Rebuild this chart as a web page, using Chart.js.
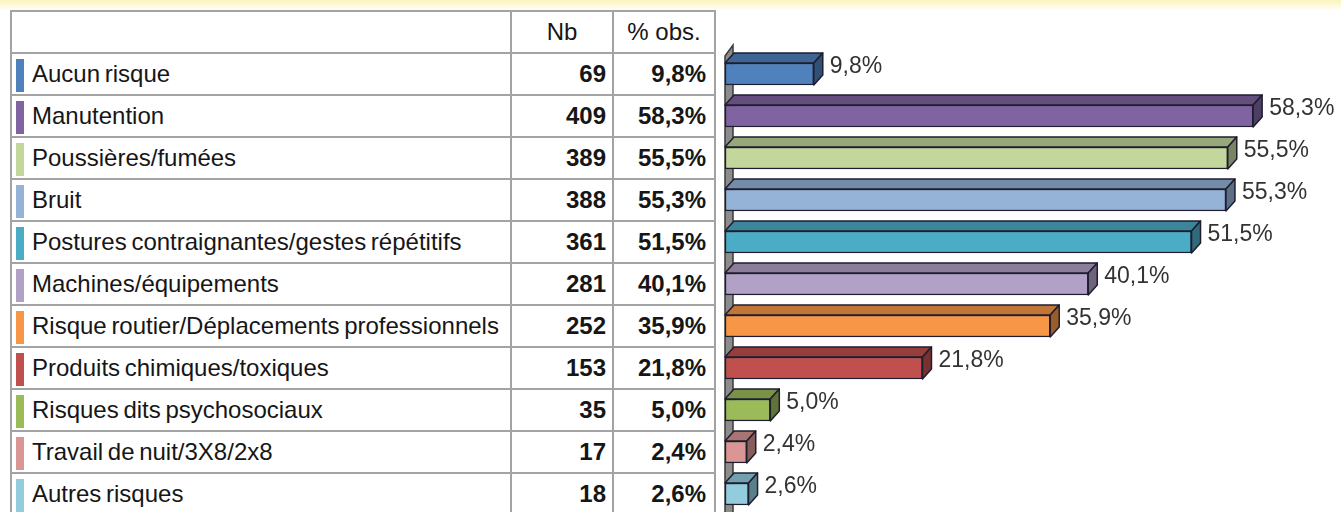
<!DOCTYPE html>
<html>
<head>
<meta charset="utf-8">
<script src="https://cdn.jsdelivr.net/npm/chart.js@4.4.1/dist/chart.umd.min.js"></script>
<style>
  html, body { margin:0; padding:0; width:1341px; height:512px; overflow:hidden;
    background: linear-gradient(to bottom, #fbf4bd 0px, #fcf7d2 4px, #fefcef 8px, #ffffff 11px); }
  #tbl { position:absolute; left:10px; top:10px; border-collapse:collapse; table-layout:fixed; width:704px;
    font-family:"Liberation Sans", Arial, sans-serif; font-size:24px; color:#161616; }
  #tbl tr { height:42px; }
  #tbl td, #tbl th { border:2px solid #a3a3a3; height:40px; padding:0; font-weight:normal; box-sizing:border-box; white-space:nowrap; }
  #tbl th { text-align:center; }
  #tbl td.lab { position:relative; padding-left:20px; letter-spacing:0px; word-spacing:-2px; }
  #tbl td.num { text-align:right; font-weight:bold; padding-right:6px; }
  #tbl td.pct { text-align:right; font-weight:bold; padding-right:8px; }
  .sw { position:absolute; left:4px; top:5px; width:8px; height:33px; }
  #wrap { position:absolute; left:0; top:0; width:1341px; height:540px; }
</style>
</head>
<body>
<table id="tbl"><colgroup><col style="width:500px"><col style="width:102px"><col style="width:102px"></colgroup><tbody id="tb"></tbody></table>
<div id="wrap"><canvas id="c"></canvas></div>
<script>
const categories = ["Aucun risque","Manutention","Poussières/fumées","Bruit","Postures contraignantes/gestes répétitifs","Machines/équipements","Risque routier/Déplacements professionnels","Produits chimiques/toxiques","Risques dits psychosociaux","Travail de nuit/3X8/2x8","Autres risques"];
const nbValues = [69, 409, 389, 388, 361, 281, 252, 153, 35, 17, 18];
const pctValues = [9.8, 58.3, 55.5, 55.3, 51.5, 40.1, 35.9, 21.8, 5.0, 2.4, 2.6];
const colors = ["#4F81BD","#8064A2","#C3D69B","#95B3D7","#4BACC6","#B2A1C7","#F79646","#C0504D","#9BBB59","#D99694","#93CDDD"];
const headers = ["", "Nb", "% obs."];

const fmt = v => v.toFixed(1).replace('.', ',') + '%';

// Build table from arrays
const tb = document.getElementById('tb');
let html = '<tr><th>' + headers[0] + '</th><th>' + headers[1] + '</th><th>' + headers[2] + '</th></tr>';
categories.forEach((c, i) => {
  html += '<tr><td class="lab"><div class="sw" style="background:' + colors[i] + '"></div>' + c +
          '</td><td class="num">' + nbValues[i] + '</td><td class="pct">' + fmt(pctValues[i]) + '</td></tr>';
});
tb.innerHTML = html;

function shade(hex, f) {
  const n = parseInt(hex.slice(1), 16);
  const r = Math.round(((n >> 16) & 255) * f), g = Math.round(((n >> 8) & 255) * f), b = Math.round((n & 255) * f);
  return 'rgb(' + r + ',' + g + ',' + b + ')';
}

const DX = 9, DY = 10;
const OUT = '#1e1e30';

const bar3d = {
  id: 'bar3d',
  beforeDatasetsDraw(chart) {
    const ctx = chart.ctx;
    const x0 = chart.scales.x.getPixelForValue(0);
    ctx.save();
    ctx.beginPath();
    ctx.moveTo(x0, 56);
    ctx.lineTo(x0 + DX - 1, 45);
    ctx.lineTo(x0 + DX - 1, 545);
    ctx.lineTo(x0, 545);
    ctx.closePath();
    ctx.fillStyle = '#8c8c8c';
    ctx.fill();
    ctx.lineWidth = 1.5;
    ctx.strokeStyle = '#3a3a3a';
    ctx.stroke();
    ctx.restore();
  },
  afterDatasetsDraw(chart) {
    const ctx = chart.ctx;
    const meta = chart.getDatasetMeta(0);
    ctx.save();
    ctx.lineWidth = 1.5;
    ctx.strokeStyle = OUT;
    ctx.lineJoin = 'round';
    meta.data.forEach((el, i) => {
      const p = el.getProps(['x', 'y', 'base', 'height'], true);
      const xs = p.base, xe = p.x, yt = p.y - p.height / 2, yb = p.y + p.height / 2;
      ctx.beginPath();
      ctx.moveTo(xs, yt);
      ctx.lineTo(xs + DX, yt - DY);
      ctx.lineTo(xe + DX, yt - DY);
      ctx.lineTo(xe, yt);
      ctx.closePath();
      ctx.fillStyle = shade(colors[i], 0.78);
      ctx.fill(); ctx.stroke();
      ctx.beginPath();
      ctx.moveTo(xe, yt);
      ctx.lineTo(xe + DX, yt - DY);
      ctx.lineTo(xe + DX, yb - DY);
      ctx.lineTo(xe, yb);
      ctx.closePath();
      ctx.fillStyle = shade(colors[i], 0.62);
      ctx.fill(); ctx.stroke();
      ctx.fillStyle = '#333333';
      ctx.font = '23px "Liberation Sans", Arial, sans-serif';
      ctx.textBaseline = 'middle';
      ctx.textAlign = 'left';
      ctx.fillText(fmt(pctValues[i]), xe + DX + 7, p.y - 7);
    });
    ctx.restore();
  }
};

new Chart(document.getElementById('c'), {
  type: 'bar',
  data: {
    labels: categories,
    datasets: [{
      data: pctValues,
      backgroundColor: colors,
      borderColor: OUT,
      borderWidth: 1.5,
      borderSkipped: false,
      barThickness: 22
    }]
  },
  options: {
    indexAxis: 'y',
    responsive: true,
    maintainAspectRatio: false,
    animation: false,
    layout: { padding: { top: 53, bottom: 25, left: 725, right: 0 } },
    scales: {
      x: { display: false, min: 0, max: 68 },
      y: { display: false }
    },
    plugins: { legend: { display: false }, tooltip: { enabled: false } }
  },
  plugins: [bar3d]
});
</script>
</body>
</html>
